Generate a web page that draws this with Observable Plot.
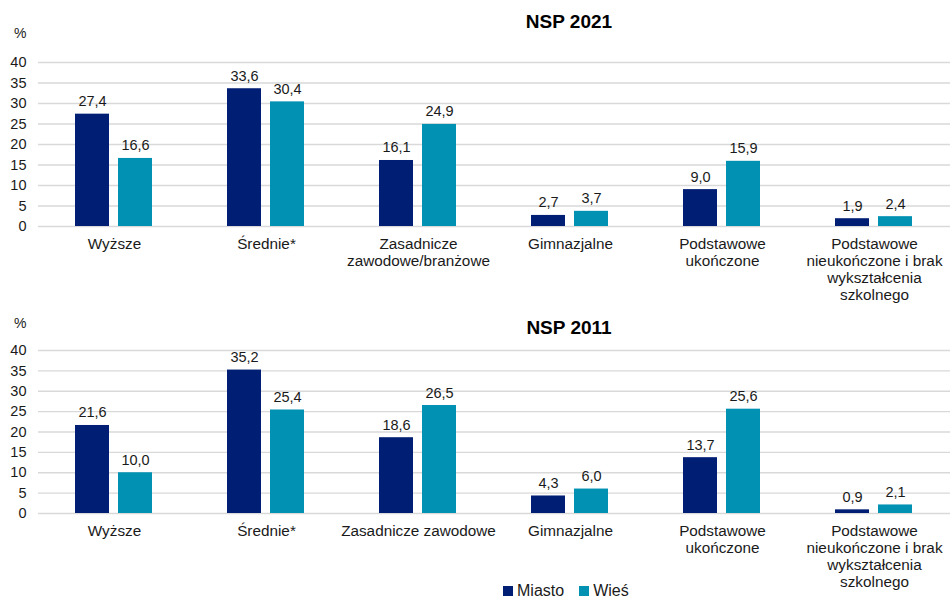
<!DOCTYPE html>
<html>
<head>
<meta charset="utf-8">
<script src="https://cdn.jsdelivr.net/npm/d3@7"></script>
<script src="https://cdn.jsdelivr.net/npm/@observablehq/plot@0.6"></script>
<style>
  html, body { margin: 0; padding: 0; background: #fff; }
  #wrap { position: relative; width: 951px; height: 599px; font-family: "Liberation Sans", Arial, sans-serif; color: #1a1a1a; overflow: hidden; }
  .abs { position: absolute; }
  .title { font-weight: bold; font-size: 19px; line-height: 22px; transform: translateX(-50%); white-space: nowrap; color: #000; }
  .pct { font-size: 14px; line-height: 16px; }
  .legend { display: flex; align-items: center; font-size: 16px; line-height: 18px; }
  .sw { width: 10px; height: 10px; display: inline-block; margin-right: 4px; }
  svg { background: transparent !important; }
</style>
</head>
<body>
<div id="wrap">
  <div id="top" class="abs" style="left:0;top:0"></div>
  <div id="bottom" class="abs" style="left:0;top:300px"></div>
  <div class="abs title" style="left:569px;top:11px">NSP 2021</div>
  <div class="abs title" style="left:569px;top:317px">NSP 2011</div>
  <div class="abs pct" style="left:14px;top:25px">%</div>
  <div class="abs pct" style="left:14px;top:315px">%</div>
  <div id="legend" class="abs legend" style="left:503px;top:582px"></div>
</div>
<script>
const categories2021 = ["Wyższe", "Średnie*", "Zasadnicze\nzawodowe/branżowe", "Gimnazjalne", "Podstawowe\nukończone", "Podstawowe\nnieukończone i brak\nwykształcenia\nszkolnego"];
const categories2011 = ["Wyższe", "Średnie*", "Zasadnicze zawodowe", "Gimnazjalne", "Podstawowe\nukończone", "Podstawowe\nnieukończone i brak\nwykształcenia\nszkolnego"];
const miasto2021 = [27.4, 33.6, 16.1, 2.7, 9.0, 1.9];
const wies2021   = [16.6, 30.4, 24.9, 3.7, 15.9, 2.4];
const miasto2011 = [21.6, 35.2, 18.6, 4.3, 13.7, 0.9];
const wies2011   = [10.0, 25.4, 26.5, 6.0, 25.6, 2.1];
const series = ["Miasto", "Wieś"];
const colors = ["#001E73", "#0091B3"];
const yTicks = [0, 5, 10, 15, 20, 25, 30, 35, 40];

function rows(cats, a, b) {
  const out = [];
  cats.forEach((c, i) => {
    out.push({cat: c, series: series[0], value: a[i]});
    out.push({cat: c, series: series[1], value: b[i]});
  });
  return out;
}
const fmt = d => d.toFixed(1).replace(".", ",");

function chart(cats, data, height, marginTop, marginBottom) {
  return Plot.plot({
    width: 951, height, marginTop, marginBottom, marginLeft: 36, marginRight: 0,
    style: {fontFamily: "'Liberation Sans', Arial, sans-serif", color: "#1a1a1a", background: "transparent", overflow: "visible"},
    fx: {domain: cats, padding: 0, label: null},
    x: {domain: series, paddingInner: 0.207, paddingOuter: 0.855, axis: null},
    y: {domain: [0, 40], label: null},
    color: {domain: series, range: colors},
    marks: [
      Plot.gridY(yTicks, {stroke: "#d9d9d9", strokeOpacity: 1, strokeWidth: 1.3}),
      Plot.barY(data, {fx: "cat", x: "series", y: "value", fill: "series"}),
      Plot.text(data, {fx: "cat", x: "series", y: "value", text: d => fmt(d.value), lineAnchor: "bottom", dy: -8, fontSize: 14.5, fill: "#1a1a1a"}),
      Plot.axisY(yTicks, {tickSize: 0, tickPadding: 12, fontSize: 14.5, label: null}),
      Plot.axisFx({anchor: "bottom", tickSize: 0, tickPadding: 10, fontSize: 15.3, lineHeight: 1.11, label: null})
    ]
  });
}

document.getElementById("top").appendChild(chart(categories2021, rows(categories2021, miasto2021, wies2021), 312, 62, 86));
document.getElementById("bottom").appendChild(chart(categories2011, rows(categories2011, miasto2011, wies2011), 299, 50, 86));

const lg = document.getElementById("legend");
series.forEach((s, i) => {
  const sw = document.createElement("span");
  sw.className = "sw";
  sw.style.background = colors[i];
  lg.appendChild(sw);
  const t = document.createElement("span");
  t.textContent = s;
  t.style.marginRight = i === 0 ? "15px" : "0";
  lg.appendChild(t);
});
</script>
</body>
</html>
